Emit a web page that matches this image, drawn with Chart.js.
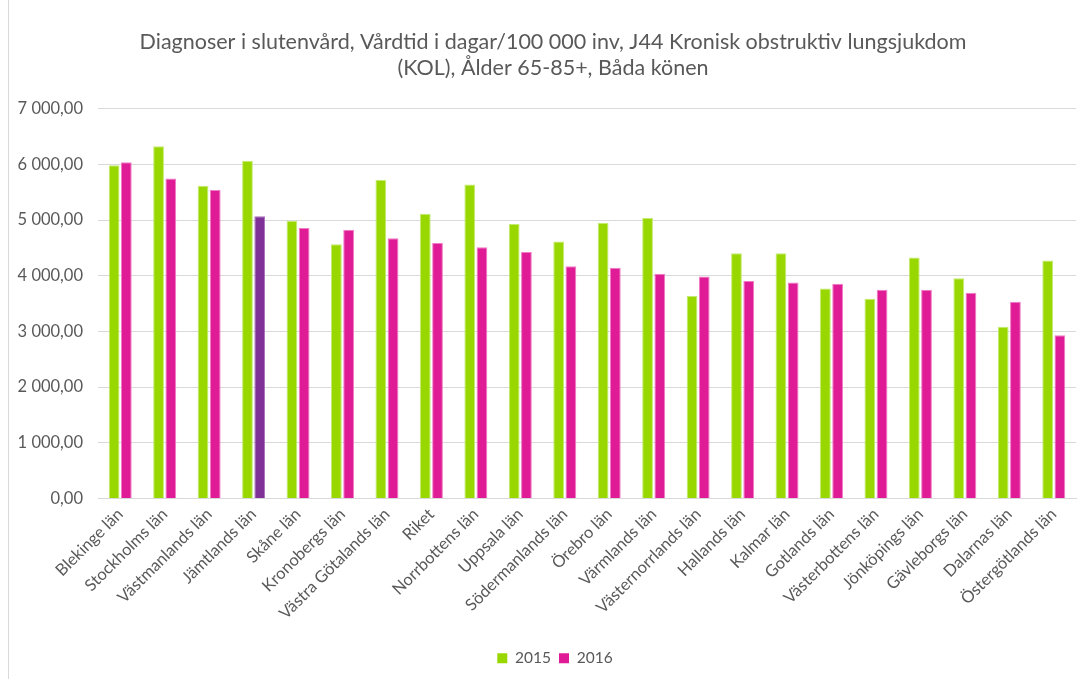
<!DOCTYPE html>
<html lang="sv">
<head>
<meta charset="utf-8">
<script src="https://cdn.jsdelivr.net/npm/chart.js@4.4.1/dist/chart.umd.min.js"></script>
<style>
  html, body { margin: 0; padding: 0; background: #fff; }
  #wrap { position: relative; width: 1081px; height: 679px; overflow: hidden; }
  #frame { position: absolute; left: 8px; top: 0; width: 1100px; height: 679px; border-left: 1px solid #d9d9d9; box-sizing: border-box; }
  canvas { position: absolute; left: 0; top: 0; }
</style>
</head>
<body>
<div id="wrap">
  <div id="frame"></div>
  <canvas id="chart" width="1081" height="679"></canvas>
</div>
<script>
// Län, sorterade efter vårdtid 2016
const categories = [
  "Blekinge län", "Stockholms län", "Västmanlands län", "Jämtlands län", "Skåne län",
  "Kronobergs län", "Västra Götalands län", "Riket", "Norrbottens län", "Uppsala län",
  "Södermanlands län", "Örebro län", "Värmlands län", "Västernorrlands län", "Hallands län",
  "Kalmar län", "Gotlands län", "Västerbottens län", "Jönköpings län", "Gävleborgs län",
  "Dalarnas län", "Östergötlands län"
];

// Vårdtid i dagar per 100 000 invånare
const values2015 = [
  5985, 6325, 5614, 6062, 4982,
  4565, 5716, 5113, 5639, 4928,
  4612, 4952, 5036, 3634, 4404,
  4404, 3770, 3586, 4325, 3956,
  3085, 4272
];
const values2016 = [
  6038, 5746, 5537, 5066, 4857,
  4827, 4672, 4588, 4511, 4427,
  4171, 4141, 4033, 3985, 3903,
  3878, 3854, 3747, 3747, 3693,
  3532, 2929
];

const seriesLabels = ["2015", "2016"];
const yTicks = [0, 1000, 2000, 3000, 4000, 5000, 6000, 7000];
const highlighted = "Jämtlands län";

const GREEN = "#99d700";
const PINK = "#e01b96";
const PURPLE = "#7f3197";
const TEXT = "#595959";
const GRID = "#d9d9d9";
const FONT = "Lato, 'Liberation Sans', sans-serif";

// "7 000,00"-formatering
function formatSv(v) {
  const parts = Math.round(v).toString().replace(/\B(?=(\d{3})+(?!\d))/g, " ");
  return parts + ",00";
}

const colors2016 = categories.map(c => c === highlighted ? PURPLE : PINK);
const borders2016 = categories.map(c => c === highlighted ? "#a770b8" : "#f07cc4");

// Rubrik och förklaring centreras över hela diagramramen, inte bara layoutytan
const frameCentering = {
  id: "frameCentering",
  afterLayout(chart) {
    const t = chart.titleBlock;
    if (t) { t.left += 10; t.right += 10; }
    const l = chart.legend;
    if (l) { l.left += 12; l.right += 12; }
  }
};

new Chart(document.getElementById("chart"), {
  type: "bar",
  data: {
    labels: categories,
    datasets: [
      {
        label: seriesLabels[0],
        data: values2015,
        backgroundColor: GREEN,
        borderColor: "#c4ea70",
        borderWidth: 1,
        barPercentage: 0.88,
        categoryPercentage: 0.55
      },
      {
        label: seriesLabels[1],
        data: values2016,
        backgroundColor: colors2016,
        borderColor: borders2016,
        borderWidth: 1,
        barPercentage: 0.88,
        categoryPercentage: 0.55
      }
    ]
  },
  plugins: [frameCentering],
  options: {
    responsive: false,
    animation: false,
    layout: { padding: { left: 10, right: 5, top: 10, bottom: 3 } },
    plugins: {
      title: {
        display: true,
        text: [
          "Diagnoser i slutenvård, Vårdtid i dagar/100 000 inv, J44 Kronisk obstruktiv lungsjukdom",
          "(KOL), Ålder 65-85+, Båda könen"
        ],
        color: TEXT,
        font: { family: FONT, size: 21.5, weight: "normal" },
        lineHeight: 1.3,
        padding: { top: 19, bottom: 28 }
      },
      legend: {
        position: "bottom",
        labels: {
          color: TEXT,
          font: { family: FONT, size: 15.5 },
          boxWidth: 10,
          boxHeight: 10,
          padding: 8,
          generateLabels(chart) {
            return seriesLabels.map((l, i) => ({
              text: l,
              fillStyle: i === 0 ? GREEN : PINK,
              strokeStyle: i === 0 ? GREEN : PINK,
              lineWidth: 0,
              fontColor: TEXT,
              datasetIndex: i
            }));
          }
        }
      },
      tooltip: { enabled: false }
    },
    scales: {
      x: {
        grid: { display: false, drawTicks: false },
        border: { display: true, color: GRID, width: 1 },
        ticks: {
          color: TEXT,
          font: { family: FONT, size: 16.5 },
          minRotation: 45,
          maxRotation: 45,
          autoSkip: false,
          padding: 6
        },
        afterFit(axis) {
          axis.height = 144;
          axis.paddingLeft = 0;
          axis.paddingRight = 0;
        }
      },
      y: {
        min: 0,
        max: 7000,
        afterBuildTicks(axis) { axis.ticks = yTicks.map(v => ({ value: v })); },
        grid: { color: GRID, lineWidth: 1, drawTicks: false },
        border: { display: false },
        ticks: {
          color: TEXT,
          font: { family: FONT, size: 16.5 },
          padding: 15,
          callback: v => formatSv(v)
        },
        afterFit(axis) { axis.width = 88; }
      }
    }
  }
});
</script>
</body>
</html>
